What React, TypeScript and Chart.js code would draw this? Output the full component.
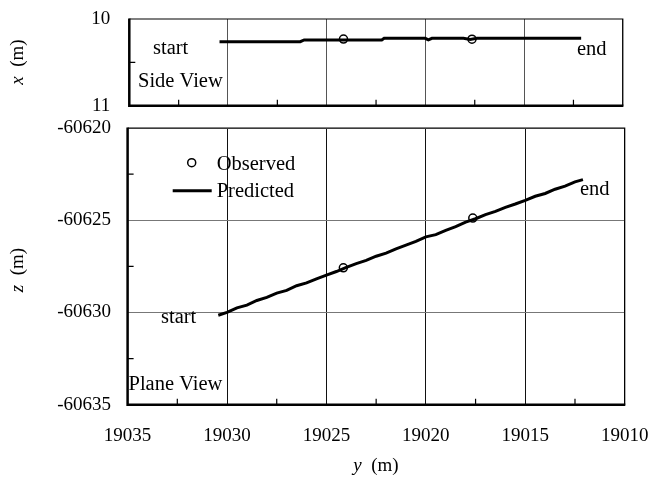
import React, { useEffect, useRef } from 'react';
import { Chart, registerables } from 'chart.js';

Chart.register(...registerables);

// ---------- data ----------
const yRangeMin = 19010;
const yRangeMax = 19035;
const yMajorTicks = [19035, 19030, 19025, 19020, 19015, 19010];
const yMinorTicks = [19032.5, 19027.5, 19022.5, 19017.5, 19012.5];

const xRangeMin = 10;
const xRangeMax = 11;
const xMinorTicks = [10.5];

const zRangeMin = -60635;
const zRangeMax = -60620;
const zMinorTicks = [-60632.5, -60627.5, -60622.5];

// Observed points
const obsY = [19024.15, 19017.64];
const obsX = [10.231, 10.233];
const obsZ = [-60627.58, -60624.88];

// Predicted – side view (y, x)
const sideY = [19030.43, 19026.34, 19026.14, 19022.21, 19022.09, 19020.01, 19019.85, 19019.67, 19018.07, 19017.73, 19017.39, 19012.11];
const sideX = [10.262, 10.262, 10.242, 10.242, 10.223, 10.223, 10.240, 10.223, 10.223, 10.235, 10.223, 10.223];

// Predicted – plane view (y, z)
const planeY = [
  19030.44, 19030.0, 19029.5, 19029.0, 19028.5, 19028.0, 19027.5, 19027.0, 19026.5, 19026.0,
  19025.5, 19025.0, 19024.5, 19024.0, 19023.5, 19023.0, 19022.5, 19022.0, 19021.5, 19021.0,
  19020.5, 19020.0, 19019.5, 19019.0, 19018.5, 19018.0, 19017.5, 19017.0, 19016.5, 19016.0,
  19015.5, 19015.0, 19014.5, 19014.0, 19013.5, 19013.0, 19012.5, 19012.1,
];
const planeZ = [
  -60630.15, -60630.0, -60629.75, -60629.6, -60629.35, -60629.18, -60628.95, -60628.8, -60628.55, -60628.4,
  -60628.18, -60627.98, -60627.78, -60627.56, -60627.35, -60627.18, -60626.95, -60626.78, -60626.55, -60626.35,
  -60626.15, -60625.9, -60625.78, -60625.55, -60625.35, -60625.1, -60624.92, -60624.7, -60624.52, -60624.3,
  -60624.12, -60623.92, -60623.7, -60623.55, -60623.32, -60623.15, -60622.92, -60622.8,
];

// ---------- style ----------
const FONT = "'Liberation Serif', 'Times New Roman', Times, serif";
const TICK_SIZE = 19;
const TEXT_SIZE = 20.5;
const W = 651;
const H = 479;

type Txt = { t: string; x: number; y: number };

function drawBox(ctx: CanvasRenderingContext2D, ca: any) {
  ctx.save();
  ctx.strokeStyle = '#000';
  ctx.lineWidth = 1.2;
  ctx.beginPath();
  ctx.moveTo(ca.left, ca.top);
  ctx.lineTo(ca.right, ca.top);
  ctx.lineTo(ca.right, ca.bottom);
  ctx.stroke();
  ctx.lineWidth = 2.5;
  ctx.beginPath();
  ctx.moveTo(ca.left, ca.top - 0.6);
  ctx.lineTo(ca.left, ca.bottom);
  ctx.lineTo(ca.right + 0.6, ca.bottom);
  ctx.stroke();
  ctx.restore();
}

function drawMinor(ctx: CanvasRenderingContext2D, chart: any, xs: number[], ys: number[]) {
  const ca = chart.chartArea;
  ctx.save();
  ctx.strokeStyle = '#000';
  ctx.lineWidth = 1.2;
  ctx.beginPath();
  xs.forEach((v) => {
    const px = chart.scales.x.getPixelForValue(v);
    ctx.moveTo(px, ca.bottom);
    ctx.lineTo(px, ca.bottom - 6);
  });
  ys.forEach((v) => {
    const py = chart.scales.y.getPixelForValue(v);
    ctx.moveTo(ca.left, py);
    ctx.lineTo(ca.left + 6, py);
  });
  ctx.stroke();
  ctx.restore();
}

function drawTexts(ctx: CanvasRenderingContext2D, list: Txt[]) {
  ctx.save();
  ctx.fillStyle = '#000';
  ctx.font = `${TEXT_SIZE}px ${FONT}`;
  ctx.textAlign = 'left';
  ctx.textBaseline = 'alphabetic';
  list.forEach((o) => ctx.fillText(o.t, o.x, o.y));
  ctx.restore();
}

function drawAxisTitle(ctx: CanvasRenderingContext2D, italic: string, rest: string, cx: number, cy: number, rotate: boolean) {
  ctx.save();
  ctx.fillStyle = '#000';
  ctx.translate(cx, cy);
  if (rotate) ctx.rotate(-Math.PI / 2);
  ctx.textBaseline = 'middle';
  ctx.textAlign = 'left';
  ctx.font = `italic ${TICK_SIZE}px ${FONT}`;
  const w1 = ctx.measureText(italic).width;
  ctx.font = `${TICK_SIZE}px ${FONT}`;
  const w2 = ctx.measureText(rest).width;
  const start = -(w1 + w2) / 2;
  ctx.font = `italic ${TICK_SIZE}px ${FONT}`;
  ctx.fillText(italic, start, 0);
  ctx.font = `${TICK_SIZE}px ${FONT}`;
  ctx.fillText(rest, start + w1, 0);
  ctx.restore();
}

const numLabel = (v: any) => String(v);
const zeroPad = (s: any) => {
  s.paddingLeft = 0;
  s.paddingRight = 0;
  s.paddingTop = 0;
  s.paddingBottom = 0;
};

export default function App() {
  const topRef = useRef<HTMLCanvasElement | null>(null);
  const botRef = useRef<HTMLCanvasElement | null>(null);

  useEffect(() => {
    const topCanvas = topRef.current!;
    const botCanvas = botRef.current!;

    const topPlugin = {
      id: 'topDecor',
      afterDraw(chart: any) {
        const ctx = chart.ctx;
        const ca = chart.chartArea;
        drawMinor(ctx, chart, yMinorTicks, xMinorTicks);
        drawBox(ctx, ca);
        drawTexts(ctx, [
          { t: 'start', x: 153, y: 54 },
          { t: 'Side View', x: 138, y: 87.3 },
          { t: 'end', x: 577, y: 55 },
        ]);
        drawAxisTitle(ctx, 'x', '  (m)', 18, 62, true);
      },
    };

    const botPlugin = {
      id: 'botDecor',
      afterDraw(chart: any) {
        const ctx = chart.ctx;
        const ca = chart.chartArea;
        drawMinor(ctx, chart, yMinorTicks, zMinorTicks);
        drawBox(ctx, ca);
        drawTexts(ctx, [
          { t: 'start', x: 161, y: 323.3 },
          { t: 'Plane View', x: 128.5, y: 390 },
          { t: 'end', x: 580, y: 195 },
          { t: 'Observed', x: 216.7, y: 170 },
          { t: 'Predicted', x: 216.7, y: 196.7 },
        ]);
        // legend symbols
        ctx.save();
        ctx.strokeStyle = '#000';
        ctx.lineWidth = 1.5;
        ctx.beginPath();
        ctx.arc(191.7, 162.7, 4, 0, Math.PI * 2);
        ctx.stroke();
        ctx.lineWidth = 3;
        ctx.beginPath();
        ctx.moveTo(172.7, 190.7);
        ctx.lineTo(211.7, 190.7);
        ctx.stroke();
        ctx.restore();
        drawAxisTitle(ctx, 'z', '  (m)', 18, 270, true);
        drawAxisTitle(ctx, 'y', '  (m)', 376, 466, false);
      },
    };

    const tickFont = { family: FONT, size: TICK_SIZE };

    const topChart = new Chart(topCanvas, {
      type: 'scatter',
      data: {
        datasets: [
          {
            label: 'Predicted',
            data: sideY.map((v, i) => ({ x: v, y: sideX[i] })),
            showLine: true,
            borderColor: '#000',
            borderWidth: 3,
            pointRadius: 0,
            order: 2,
          },
          {
            label: 'Observed',
            data: obsY.map((v, i) => ({ x: v, y: obsX[i] })),
            showLine: false,
            pointRadius: 4,
            pointBorderColor: '#000',
            pointBackgroundColor: 'rgba(0,0,0,0)',
            pointBorderWidth: 1.5,
            order: 1,
          },
        ],
      },
      options: {
        animation: false,
        responsive: false,
        devicePixelRatio: 1,
        layout: { padding: { top: 19, right: W - 622.8, left: 0, bottom: 0 } },
        plugins: { legend: { display: false }, tooltip: { enabled: false } },
        scales: {
          x: {
            type: 'linear',
            min: yRangeMin,
            max: yRangeMax,
            reverse: true,
            ticks: { display: false, stepSize: 5 },
            grid: { color: '#555', lineWidth: 1, drawTicks: false },
            border: { display: false },
            afterFit: (s: any) => { s.height = H - 105.7; zeroPad(s); },
          },
          y: {
            type: 'linear',
            min: xRangeMin,
            max: xRangeMax,
            reverse: true,
            ticks: { stepSize: 1, padding: 19, color: '#000', font: tickFont, callback: numLabel },
            grid: { display: false, drawTicks: false },
            border: { display: false },
            afterFit: (s: any) => { s.width = 129.3; zeroPad(s); },
          },
        },
      } as any,
      plugins: [topPlugin],
    });

    const botChart = new Chart(botCanvas, {
      type: 'scatter',
      data: {
        datasets: [
          {
            label: 'Predicted',
            data: planeY.map((v, i) => ({ x: v, y: planeZ[i] })),
            showLine: true,
            borderColor: '#000',
            borderWidth: 3,
            pointRadius: 0,
            order: 2,
          },
          {
            label: 'Observed',
            data: obsY.map((v, i) => ({ x: v, y: obsZ[i] })),
            showLine: false,
            pointRadius: 4,
            pointBorderColor: '#000',
            pointBackgroundColor: 'rgba(0,0,0,0)',
            pointBorderWidth: 1.5,
            order: 1,
          },
        ],
      },
      options: {
        animation: false,
        responsive: false,
        devicePixelRatio: 1,
        layout: { padding: { top: 128, right: W - 624.7, left: 0, bottom: 0 } },
        plugins: { legend: { display: false }, tooltip: { enabled: false } },
        scales: {
          x: {
            type: 'linear',
            min: yRangeMin,
            max: yRangeMax,
            reverse: true,
            afterBuildTicks: (s: any) => { s.ticks = yMajorTicks.map((v) => ({ value: v })); },
            ticks: { padding: 20, color: '#000', font: tickFont, callback: numLabel, autoSkip: false, maxRotation: 0 },
            grid: { color: '#111', lineWidth: 1, drawTicks: false },
            border: { display: false },
            afterFit: (s: any) => { s.height = H - 404.7; zeroPad(s); },
          },
          y: {
            type: 'linear',
            min: zRangeMin,
            max: zRangeMax,
            ticks: { stepSize: 5, padding: 16.5, color: '#000', font: tickFont, callback: numLabel },
            grid: { color: '#777', lineWidth: 1, drawTicks: false },
            border: { display: false },
            afterFit: (s: any) => { s.width = 127.6; zeroPad(s); },
          },
        },
      } as any,
      plugins: [botPlugin],
    });

    return () => {
      topChart.destroy();
      botChart.destroy();
    };
  }, []);

  const cStyle: React.CSSProperties = { position: 'absolute', left: 0, top: 0, width: W, height: H, display: 'block' };
  return (
    <div style={{ position: 'absolute', left: 0, top: 0, width: W, height: H, background: '#fff' }}>
      <canvas ref={botRef} width={W} height={H} style={cStyle} />
      <canvas ref={topRef} width={W} height={H} style={cStyle} />
    </div>
  );
}
